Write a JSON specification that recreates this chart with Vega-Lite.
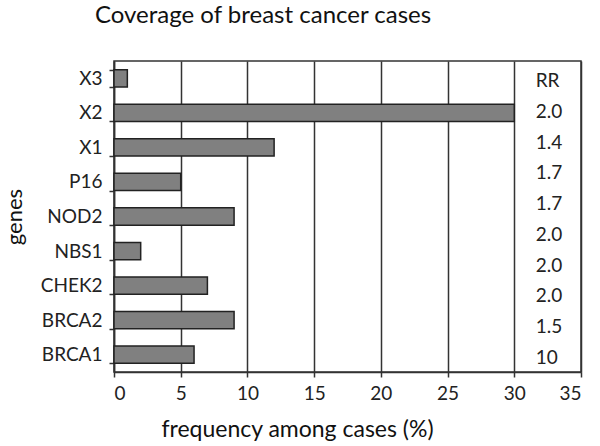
{
  "$schema": "https://vega.github.io/schema/vega-lite/v6.json",
  "autosize": "none",
  "width": 467,
  "height": 311,
  "padding": {"left": 114, "top": 61, "right": 19, "bottom": 74},
  "background": "white",
  "title": {"text": "Coverage of breast cancer cases", "fontSize": 24, "font": "Lato", "fontWeight": "normal", "color": "#111", "anchor": "start", "frame": "group", "dx": -19, "offset": 24},
  "config": {
    "font": "Lato",
    "view": {"stroke": "#333", "strokeWidth": 1.5}
  },
  "layer": [
    {
      "data": {"values": [
        {"gene": "X3", "freq": 1},
        {"gene": "X2", "freq": 30},
        {"gene": "X1", "freq": 12},
        {"gene": "P16", "freq": 5},
        {"gene": "NOD2", "freq": 9},
        {"gene": "NBS1", "freq": 2},
        {"gene": "CHEK2", "freq": 7},
        {"gene": "BRCA2", "freq": 9},
        {"gene": "BRCA1", "freq": 6}
      ]},
      "mark": {"type": "bar", "fill": "#808080", "stroke": "#222", "strokeWidth": 1.5},
      "encoding": {
        "y": {
          "field": "gene", "type": "nominal",
          "sort": ["X3", "X2", "X1", "P16", "NOD2", "NBS1", "CHEK2", "BRCA2", "BRCA1"],
          "scale": {"paddingInner": 0.5, "paddingOuter": 0.25},
          "axis": {
            "title": "genes", "titleFontSize": 22, "titleFontWeight": "normal", "titleColor": "#111", "titlePadding": 14,
            "labelFontSize": 19, "labelColor": "#222", "labelPadding": 7,
            "tickBand": "extent", "tickLength": 4, "tickColor": "#333", "tickWidth": 1.5,
            "domainColor": "#333", "domainWidth": 1.5, "grid": false
          }
        },
        "x": {
          "field": "freq", "type": "quantitative",
          "scale": {"domain": [0, 35], "nice": false},
          "axis": {
            "title": "frequency among cases (%)", "titleFontSize": 23, "titleFontWeight": "normal", "titleColor": "#111", "titlePadding": 15, "titleX": 183,
            "values": [0, 5, 10, 15, 20, 25, 30, 35],
            "labelFontSize": 19, "labelColor": "#222", "labelPadding": 7,
            "tickLength": 5, "tickColor": "#333", "tickWidth": 1.5,
            "domainColor": "#333", "domainWidth": 1.5,
            "grid": true, "gridColor": "#333", "gridWidth": 1.5, "gridOpacity": 1
          }
        }
      }
    },
    {
      "data": {"values": [
        {"row": 0, "rr": "RR"},
        {"row": 1, "rr": "2.0"},
        {"row": 2, "rr": "1.4"},
        {"row": 3, "rr": "1.7"},
        {"row": 4, "rr": "1.7"},
        {"row": 5, "rr": "2.0"},
        {"row": 6, "rr": "2.0"},
        {"row": 7, "rr": "2.0"},
        {"row": 8, "rr": "1.5"},
        {"row": 9, "rr": "10"}
      ]},
      "mark": {"type": "text", "align": "left", "baseline": "middle", "fontSize": 19, "color": "#222"},
      "encoding": {
        "y": {"field": "row", "type": "quantitative", "scale": {"domain": [-0.65, 9.455], "reverse": true, "nice": false, "zero": false}, "axis": null},
        "x": {"datum": 31.6, "type": "quantitative"},
        "text": {"field": "rr"}
      }
    }
  ],
  "resolve": {"scale": {"y": "independent"}}
}
